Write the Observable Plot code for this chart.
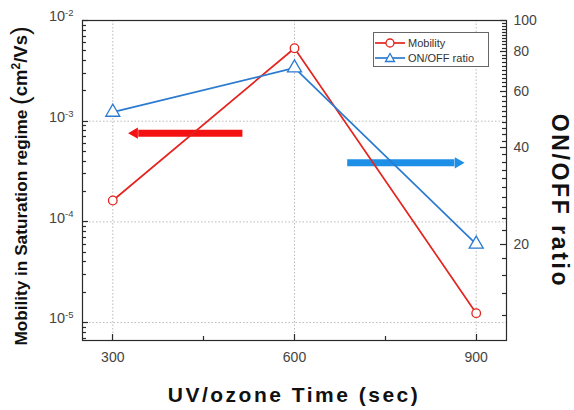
<!DOCTYPE html>
<html><head><meta charset="utf-8">
<script src="https://cdn.jsdelivr.net/npm/d3@7"></script>
<script src="https://cdn.jsdelivr.net/npm/@observablehq/plot@0.6"></script>
<style>
body{margin:0;background:#fff;}
#wrap{position:relative;width:574px;height:410px;font-family:"Liberation Sans",Arial,sans-serif;}
#legend{position:absolute;left:373px;top:32px;width:114px;height:33px;border:1px solid #666;background:#fff;font-size:11px;color:#333;}
#legend .row{position:absolute;left:0;height:14px;display:flex;align-items:center;}
#legend svg{display:block;}
</style></head><body><div id="wrap"></div>
<script>
// ---- data ----
const times = [300, 600, 900];
const mobility = [1.63e-4, 5.3e-3, 1.24e-5];      // cm^2/Vs (left axis)
const onoff = [51.7, 71.1, 20.0];                 // ON/OFF ratio (right axis)
const xTicks = [300, 600, 900];
const xMinor = [450, 750];
const leftTicks = [1e-5, 1e-4, 1e-3, 1e-2];
const rightTicks = [20, 40, 60, 80, 100];
const seriesNames = ["Mobility", "ON/OFF ratio"];
const seriesColors = ["#e3241f", "#2b7bd0"];
const arrowLeftX = [514, 332], arrowLeftY = 7.6e-4;   // red arrow (points to left axis)
const arrowRightX = [687, 874], arrowRightY = 35.9;   // blue arrow (points to right axis)

// ---- log mappings (y scale is linear in log10 units of the left axis) ----
const LOG_LO = -5.178, LOG_HI = -2;      // left axis decades
const R_LO = 1, R_HI = 2;                // right axis: 10..100 (log)
const L = v => Math.log10(v);
const R = v => LOG_LO + (Math.log10(v) - R_LO) / (R_HI - R_LO) * (LOG_HI - LOG_LO);
const Rinv = y => Math.pow(10, R_LO + (y - LOG_LO) / (LOG_HI - LOG_LO) * (R_HI - R_LO));

const mobRows = times.map((t, i) => ({t, v: L(mobility[i])}));
const onRows = times.map((t, i) => ({t, v: R(onoff[i])}));

const leftMinor = [];
for (let e = -6; e <= -3; e++) for (let k = 2; k <= 9; k++) {
  const v = L(k * Math.pow(10, e));
  if (v > LOG_LO && v < LOG_HI) leftMinor.push(v);
}
const rightMinor = [];
for (let v = 12; v < 100; v += 2) if (!rightTicks.includes(v)) rightMinor.push(R(v));

const W = 574, H = 410, ML = 82, MR = 68, MT = 20, MB = 70;
const tc = "#2a2a2a";

const plot = Plot.plot({
  width: W, height: H,
  marginLeft: ML, marginRight: MR, marginTop: MT, marginBottom: MB,
  style: {background: "#fff", fontFamily: "'Liberation Sans', Arial, sans-serif", overflow: "visible"},
  x: {domain: [250, 950]},
  y: {type: "linear", domain: [LOG_LO, LOG_HI]},
  marks: [
    Plot.gridX(xTicks, {stroke: "#aaa", strokeOpacity: 0.8, strokeDasharray: "1.5,2"}),
    Plot.gridY(leftTicks.slice(0, 3).map(L), {stroke: "#aaa", strokeOpacity: 0.8, strokeDasharray: "1.5,2"}),
    // arrows
    Plot.link([0], {x1: () => arrowLeftX[0], x2: () => arrowLeftX[1] + 10, y1: () => L(arrowLeftY), y2: () => L(arrowLeftY), stroke: "#f31111", strokeWidth: 7}),
    Plot.dot([0], {x: () => arrowLeftX[1] + 4, y: () => L(arrowLeftY), symbol: "triangle", r: 4.2, fill: "#f31111", rotate: -90}),
    Plot.link([0], {x1: () => arrowRightX[0], x2: () => arrowRightX[1] - 10, y1: () => R(arrowRightY), y2: () => R(arrowRightY), stroke: "#1e8fe6", strokeWidth: 7}),
    Plot.dot([0], {x: () => arrowRightX[1] - 4, y: () => R(arrowRightY), symbol: "triangle", r: 4.2, fill: "#1e8fe6", rotate: 90}),
    // series
    Plot.line(mobRows, {x: "t", y: "v", stroke: seriesColors[0], strokeWidth: 1.7}),
    Plot.line(onRows, {x: "t", y: "v", stroke: seriesColors[1], strokeWidth: 1.7}),
    Plot.dot(mobRows, {x: "t", y: "v", r: 4.3, stroke: seriesColors[0], fill: "white", strokeWidth: 1.3}),
    Plot.dot(onRows, {x: "t", y: "v", symbol: "triangle", r: 5.2, stroke: seriesColors[1], fill: "white", strokeWidth: 1.3}),
    Plot.frame({stroke: tc, strokeWidth: 1.2}),
    // tick labels
    Plot.axisX({ticks: xTicks, tickSize: 0, tickPadding: 12, fontSize: 14, color: "#444", letterSpacing: 1, label: null}),
    Plot.axisY({anchor: "left", ticks: leftTicks.map(L), tickSize: 0, tickPadding: 9, fontSize: 14.5, color: "#444", dy: -4,
      tickFormat: d => "10^" + Math.round(d), label: null}),
    Plot.axisY({anchor: "right", ticks: rightTicks.map(R), tickSize: 0, tickPadding: 7, fontSize: 14, color: "#444",
      tickFormat: d => String(Math.round(Rinv(d))), label: null})
  ]
});

const wrap = document.getElementById("wrap");
wrap.appendChild(plot);
const svg = d3.select(plot);

// inward tick stubs, positioned through the plot's own scales
const sx = plot.scale("x"), sy = plot.scale("y");
const x0 = ML, x1 = W - MR, yB = H - MB;
const px = v => Math.round(v) + 0.5;
const tg = svg.append("g").attr("stroke", tc).attr("stroke-width", 1.2);
xTicks.forEach(v => tg.append("line").attr("x1", px(sx.apply(v))).attr("x2", px(sx.apply(v))).attr("y1", yB).attr("y2", yB - 6));
xMinor.forEach(v => tg.append("line").attr("x1", px(sx.apply(v))).attr("x2", px(sx.apply(v))).attr("y1", yB).attr("y2", yB - 4));
leftTicks.map(L).forEach(v => tg.append("line").attr("y1", px(sy.apply(v))).attr("y2", px(sy.apply(v))).attr("x1", x0).attr("x2", x0 + 6));
leftMinor.forEach(v => tg.append("line").attr("y1", px(sy.apply(v))).attr("y2", px(sy.apply(v))).attr("x1", x0).attr("x2", x0 + 4));
rightTicks.map(R).forEach(v => tg.append("line").attr("y1", px(sy.apply(v))).attr("y2", px(sy.apply(v))).attr("x1", x1).attr("x2", x1 - 6));
rightMinor.forEach(v => tg.append("line").attr("y1", px(sy.apply(v))).attr("y2", px(sy.apply(v))).attr("x1", x1).attr("x2", x1 - 4));

// superscript exponents on left tick labels
svg.selectAll("text").each(function() {
  const t = this.textContent;
  const m = /^10\^(-?\d+)$/.exec(t);
  if (m) {
    const sel = d3.select(this);
    sel.selectAll("*").remove();
    sel.text(null);
    sel.append("tspan").text("10");
    sel.append("tspan").attr("dy", "-0.55em").attr("font-size", 9.5).text(m[1]);
  }
});

// axis titles
const titleFont = "'Liberation Sans', Arial, sans-serif";
const yl = svg.append("text").attr("transform", "translate(21,186) rotate(-90)")
  .attr("text-anchor", "middle").attr("dy", "0.35em").attr("font-family", titleFont)
  .attr("font-weight", "bold").attr("font-size", 17.2).attr("fill", "#111");
yl.append("tspan").text("Mobility in Saturation regime ");
yl.append("tspan").attr("font-size", 26).attr("font-weight", "normal").attr("dy", "0.06em").text("(");
yl.append("tspan").attr("font-size", 18.5).attr("dy", "-0.08em").text("cm");
yl.append("tspan").attr("font-size", 12).attr("dy", "-0.6em").text("2");
yl.append("tspan").attr("font-size", 18.5).attr("dy", "0.4em").text("/Vs");
yl.append("tspan").attr("font-size", 26).attr("font-weight", "normal").attr("dy", "0.06em").text(")");

svg.append("text").attr("transform", "translate(560,201) rotate(90)")
  .attr("text-anchor", "middle").attr("dy", "0.35em").attr("font-family", titleFont)
  .attr("font-weight", "bold").attr("font-size", 23).attr("letter-spacing", 2.6).attr("fill", "#111")
  .text("ON/OFF ratio");

svg.append("text").attr("x", 294).attr("y", 395)
  .attr("text-anchor", "middle").attr("dy", "0.35em").attr("font-family", titleFont)
  .attr("font-weight", "bold").attr("font-size", 21).attr("letter-spacing", 2.5).attr("fill", "#111")
  .text("UV/ozone Time (sec)");

// legend
const legend = document.createElement("div");
legend.id = "legend";
seriesNames.forEach((name, i) => {
  const row = document.createElement("div");
  row.className = "row";
  row.style.top = (3 + i * 15) + "px";
  const sym = i === 0
    ? `<circle cx="16" cy="7" r="4" fill="white" stroke="${seriesColors[i]}" stroke-width="1.3"/>`
    : `<path d="M16,2.5 L20.5,10.5 L11.5,10.5 Z" fill="white" stroke="${seriesColors[i]}" stroke-width="1.3"/>`;
  row.innerHTML = `<svg width="33" height="14"><line x1="1" y1="7" x2="31" y2="7" stroke="${seriesColors[i]}" stroke-width="1.7"/>${sym}</svg><span style="margin-left:1px">${name}</span>`;
  legend.appendChild(row);
});
wrap.appendChild(legend);
</script>
</body></html>
